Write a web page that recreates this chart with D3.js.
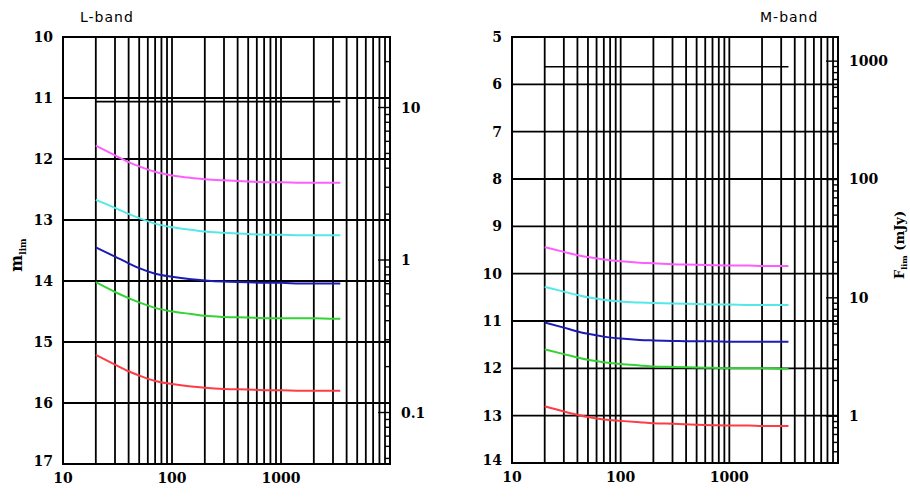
<!DOCTYPE html>
<html><head><meta charset="utf-8">
<script src="https://cdn.jsdelivr.net/npm/d3@7"></script>
<style>body{margin:0;background:#fff}svg{display:block}</style>
</head><body>
<svg id="c" width="910" height="498"></svg>
<script>
// ---- data ----
const apertures = [20,30,40,50,70,100,150,200,300,500,700,1000,1500,2000,3000,3500];
const seriesNames = ["magenta","cyan","blue","green","red"];
const seriesColors = ["#ff5eff","#55e8e8","#1c1cb4","#34d234","#ff3c46"];

const lMagenta = [11.78,11.94,12.05,12.12,12.21,12.27,12.31,12.33,12.35,12.37,12.38,12.38,12.39,12.39,12.39,12.39];
const lCyan    = [12.67,12.80,12.90,12.97,13.06,13.12,13.16,13.19,13.21,13.23,13.24,13.24,13.25,13.25,13.25,13.25];
const lBlue    = [13.45,13.60,13.71,13.79,13.88,13.93,13.97,13.99,14.01,14.02,14.03,14.03,14.04,14.04,14.04,14.04];
const lGreen   = [14.02,14.18,14.28,14.35,14.44,14.50,14.54,14.57,14.59,14.60,14.61,14.61,14.61,14.61,14.62,14.62];
const lRed     = [15.21,15.37,15.48,15.55,15.64,15.69,15.73,15.75,15.77,15.78,15.79,15.79,15.80,15.80,15.80,15.80];
const lSaturation = 11.06;

const mMagenta = [9.44,9.54,9.61,9.65,9.70,9.74,9.77,9.78,9.80,9.81,9.82,9.83,9.83,9.84,9.84,9.84];
const mCyan    = [10.28,10.38,10.45,10.50,10.55,10.59,10.61,10.62,10.63,10.64,10.65,10.65,10.66,10.66,10.66,10.66];
const mBlue    = [11.03,11.14,11.22,11.27,11.33,11.37,11.40,11.41,11.42,11.43,11.43,11.44,11.44,11.44,11.44,11.44];
const mGreen   = [11.60,11.70,11.77,11.82,11.87,11.91,11.94,11.96,11.97,11.98,11.99,12.00,12.00,12.00,12.01,12.01];
const mRed     = [12.80,12.91,12.98,13.03,13.08,13.11,13.14,13.16,13.17,13.19,13.20,13.21,13.21,13.22,13.22,13.22];
const mSaturation = 5.63;

const xTickLabels = [10,100,1000];
const lMagTicks = [10,11,12,13,14,15,16,17];
const mMagTicks = [5,6,7,8,9,10,11,12,13,14];
const lFluxLabels = [10,1,0.1];
const mFluxLabels = [1000,100,10,1];
const lZeroPoint = 290000; // mJy
const mZeroPoint = 160000; // mJy

// ---- drawing ----
const svg = d3.select("#c");
const tickFont = "'DejaVu Serif', serif";

function panel(cfg){
  const {left,right,top,bottom} = cfg;
  const g = svg.append("g");
  const x = d3.scaleLog().domain([10,10000]).range([left,right]);
  const y = d3.scaleLinear().domain([cfg.magTicks[0], cfg.magTicks[cfg.magTicks.length-1]]).range([top,bottom]);
  const fTop = cfg.zp*Math.pow(10,-0.4*y.domain()[0]);
  const fBot = cfg.zp*Math.pow(10,-0.4*y.domain()[1]);
  const yf = d3.scaleLog().domain([fTop,fBot]).range([top,bottom]);

  // vertical grid
  const vticks = [];
  for (let d=10; d<10000; d*=10) for (let k=1;k<=9;k++){ vticks.push(d*k); }
  g.selectAll(".vg").data(vticks.filter(v=>v>10)).enter().append("line")
    .attr("x1",d=>x(d)).attr("x2",d=>x(d)).attr("y1",top).attr("y2",bottom)
    .attr("stroke","#000").attr("stroke-width",1.8);
  // horizontal grid
  g.selectAll(".hg").data(cfg.magTicks).enter().append("line")
    .attr("x1",left).attr("x2",right).attr("y1",d=>y(d)).attr("y2",d=>y(d))
    .attr("stroke","#000").attr("stroke-width",1.8);
  // frame
  g.append("rect").attr("x",left).attr("y",top).attr("width",right-left).attr("height",bottom-top)
    .attr("fill","none").attr("stroke","#000").attr("stroke-width",2);

  // right flux axis ticks
  const fticks = [];
  for (let e=-3; e<5; e++) for (let k=1;k<=9;k++){ const v=k*Math.pow(10,e); if (v<=fTop && v>=fBot) fticks.push({v, major:k===1}); }
  g.selectAll(".ft").data(fticks).enter().append("line")
    .attr("x1",d=>right-(d.major?12:5)).attr("x2",right)
    .attr("y1",d=>yf(d.v)).attr("y2",d=>yf(d.v))
    .attr("stroke","#000").attr("stroke-width",1.4);
  g.selectAll(".fl").data(cfg.fluxLabels).enter().append("text")
    .attr("x",right+11).attr("y",d=>yf(d)+5)
    .attr("font-family",tickFont).attr("font-weight","bold").attr("font-size",14)
    .text(d=>String(d));

  // left mag labels
  g.selectAll(".ml").data(cfg.magTicks).enter().append("text")
    .attr("x",left-10).attr("y",(d,i)=>y(d)+5-(i===cfg.magTicks.length-1?3:0))
    .attr("text-anchor","end")
    .attr("font-family",tickFont).attr("font-weight","bold").attr("font-size",14)
    .text(d=>String(d));
  // x labels
  g.selectAll(".xl").data(cfg.xLabels).enter().append("text")
    .attr("x",d=>x(d)).attr("y",bottom+19).attr("text-anchor","middle")
    .attr("font-family",tickFont).attr("font-weight","bold").attr("font-size",14)
    .text(d=>String(d));

  // saturation line
  const line = d3.line().x(d=>x(d[0])).y(d=>y(d[1]));
  g.append("path").datum([[apertures[0],cfg.sat],[apertures[apertures.length-1],cfg.sat]])
    .attr("d",line).attr("fill","none").attr("stroke","#000").attr("stroke-width",1.6);

  // curves
  cfg.series.forEach((s,i)=>{
    g.append("path").datum(apertures.map((a,j)=>[a,s[j]]))
      .attr("d",line.curve(d3.curveMonotoneX)).attr("fill","none")
      .attr("stroke",seriesColors[i]).attr("stroke-width",2);
  });

  // band label
  g.append("text").attr("x",cfg.bandX).attr("y",22)
    .attr("font-family","'DejaVu Sans', sans-serif").attr("font-size",14)
    .attr("letter-spacing",1).text(cfg.band);
}

panel({left:63,right:390,top:37,bottom:464,magTicks:lMagTicks,zp:lZeroPoint,fluxLabels:lFluxLabels,
  xLabels:xTickLabels,sat:lSaturation,series:[lMagenta,lCyan,lBlue,lGreen,lRed],band:"L-band",bandX:80});
panel({left:512,right:838,top:37,bottom:463,magTicks:mMagTicks,zp:mZeroPoint,fluxLabels:mFluxLabels,
  xLabels:xTickLabels,sat:mSaturation,series:[mMagenta,mCyan,mBlue,mGreen,mRed],band:"M-band",bandX:760});

// axis titles
const yl = svg.append("text").attr("transform","translate(22,255) rotate(-90)")
  .attr("text-anchor","middle").attr("font-family",tickFont).attr("font-weight","bold").attr("font-size",16);
yl.append("tspan").text("m");
yl.append("tspan").attr("font-size",9).attr("dy",4).text("lim");

const fl = svg.append("text").attr("transform","translate(904,245) rotate(-90)")
  .attr("text-anchor","middle").attr("font-family",tickFont).attr("font-weight","bold").attr("font-size",13);
fl.append("tspan").text("F");
fl.append("tspan").attr("font-size",8).attr("dy",3).text("lim");
fl.append("tspan").attr("dy",-3).text(" (mJy)");
</script>
</body></html>
